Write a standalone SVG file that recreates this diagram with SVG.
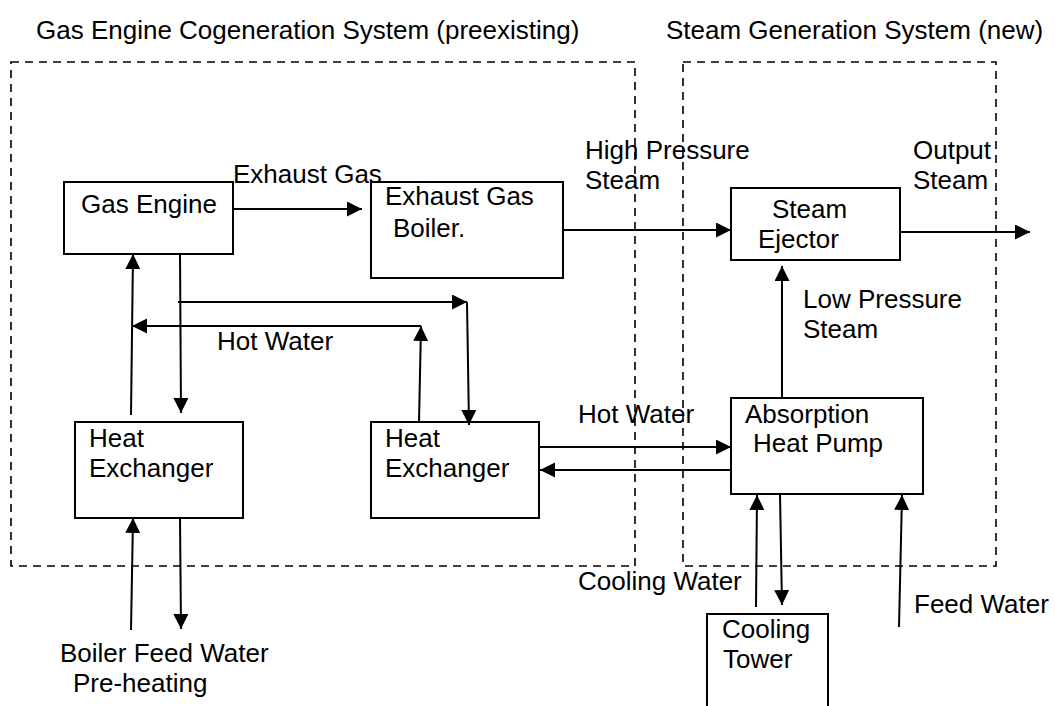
<svg xmlns="http://www.w3.org/2000/svg" width="1055" height="706" viewBox="0 0 1055 706">
<style>
text{font-family:"Liberation Sans",Arial,sans-serif;font-size:26px;fill:#000}
.box{fill:#fff;stroke:#000;stroke-width:2}
.sys{fill:none;stroke:#000;stroke-width:1.6;stroke-dasharray:8 6}
.c{fill:none;stroke:#000;stroke-width:2;marker-end:url(#ah)}
</style>
<defs>
<marker id="ah" markerUnits="userSpaceOnUse" markerWidth="16" markerHeight="16" refX="15" refY="7.5" orient="auto">
<path d="M0,0 L15,7.5 L0,15 z" fill="#000"/>
</marker>
</defs>
<rect width="1055" height="706" fill="#fff"/>
<g id="systems">
<rect class="sys" x="11" y="62" width="624" height="504"/>
<rect class="sys" x="683" y="62" width="313" height="504"/>
<text x="36" y="39">Gas Engine Cogeneration System (preexisting)</text>
<text x="666" y="39">Steam Generation System (new)</text>
</g>
<g id="gas-engine">
<rect class="box" x="64" y="182" width="169" height="72"/>
<text x="81" y="213">Gas Engine</text>
</g>
<g id="exhaust-gas-boiler">
<rect class="box" x="371" y="182" width="192" height="96"/>
<text x="385" y="205">Exhaust Gas</text>
<text x="393" y="237">Boiler.</text>
</g>
<g id="heat-exchanger-1">
<rect class="box" x="75" y="422" width="168" height="96"/>
<text x="89" y="447">Heat</text>
<text x="89" y="477">Exchanger</text>
</g>
<g id="heat-exchanger-2">
<rect class="box" x="371" y="422" width="168" height="96"/>
<text x="385" y="447">Heat</text>
<text x="385" y="477">Exchanger</text>
</g>
<g id="steam-ejector">
<rect class="box" x="731" y="188" width="169" height="72"/>
<text x="772" y="218">Steam</text>
<text x="758" y="248">Ejector</text>
</g>
<g id="absorption-heat-pump">
<rect class="box" x="731" y="398" width="192" height="96"/>
<text x="745" y="423">Absorption</text>
<text x="753" y="452">Heat Pump</text>
</g>
<g id="cooling-tower">
<rect class="box" x="707" y="614" width="121" height="110"/>
<text x="722" y="638">Cooling</text>
<text x="723" y="668">Tower</text>
</g>
<g id="connectors">
<line class="c" x1="233" y1="209" x2="362" y2="209"/>
<line class="c" x1="180" y1="254" x2="181" y2="413"/>
<line class="c" x1="178" y1="302" x2="467" y2="302"/>
<line class="c" x1="467" y1="302" x2="469" y2="425"/>
<line class="c" x1="419" y1="422" x2="421" y2="326"/>
<line class="c" x1="421" y1="326" x2="132" y2="326"/>
<line class="c" x1="131" y1="415" x2="133" y2="254"/>
<line class="c" x1="563" y1="230" x2="731" y2="230"/>
<line class="c" x1="900" y1="232" x2="1030" y2="232"/>
<line class="c" x1="782" y1="398" x2="782" y2="266"/>
<line class="c" x1="539" y1="447" x2="731" y2="447"/>
<line class="c" x1="731" y1="470" x2="540" y2="470"/>
<line class="c" x1="756" y1="607" x2="757" y2="495"/>
<line class="c" x1="780" y1="494" x2="782" y2="605"/>
<line class="c" x1="899" y1="627" x2="902" y2="495"/>
<line class="c" x1="131" y1="630" x2="133" y2="518"/>
<line class="c" x1="180" y1="518" x2="181" y2="629"/>
</g>
<g id="labels">
<text x="233" y="183">Exhaust Gas</text>
<text x="217" y="350">Hot Water</text>
<text x="60" y="662">Boiler Feed Water</text>
<text x="73" y="692">Pre-heating</text>
<text x="585" y="159">High Pressure</text>
<text x="585" y="189">Steam</text>
<text x="913" y="159">Output</text>
<text x="913" y="189">Steam</text>
<text x="803" y="308">Low Pressure</text>
<text x="803" y="338">Steam</text>
<text x="578" y="423">Hot Water</text>
<text x="578" y="590">Cooling Water</text>
<text x="914" y="613">Feed Water</text>
</g>
</svg>
